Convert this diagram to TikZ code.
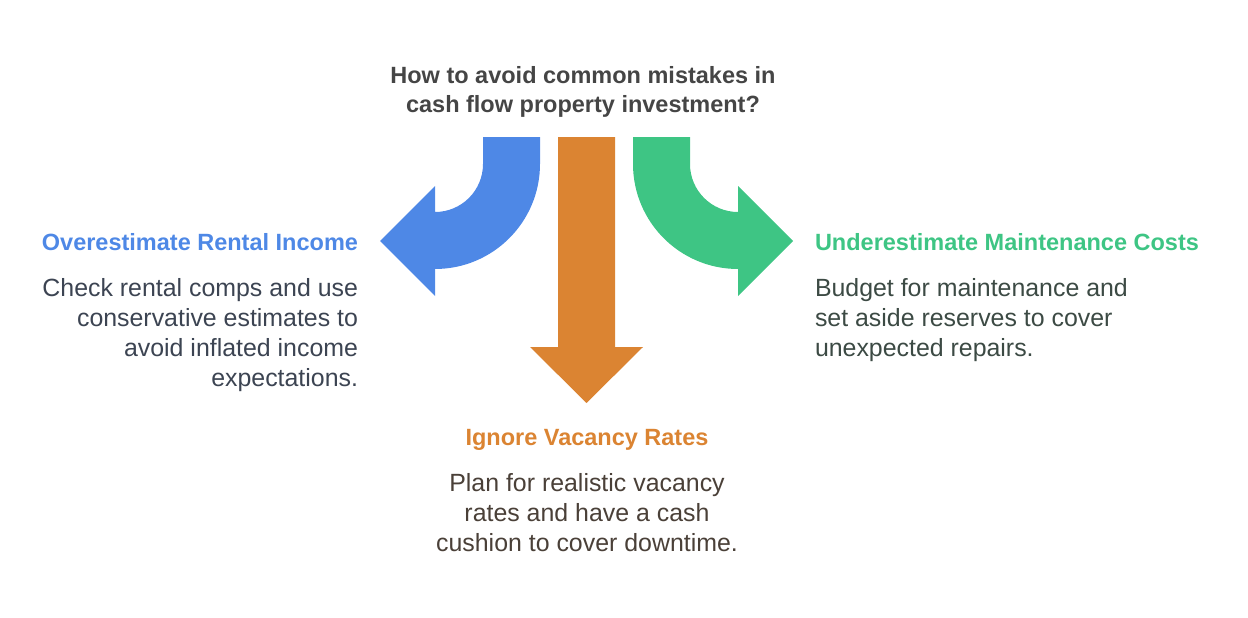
\documentclass[tikz,border=0pt]{standalone}
\usepackage{fontspec}
\setmainfont{Liberation Sans}

\definecolor{leftblue}{HTML}{4E88E6}
\definecolor{midorange}{HTML}{DB8432}
\definecolor{rightgreen}{HTML}{3EC584}
\definecolor{titlegray}{HTML}{454545}
\definecolor{leftink}{HTML}{3C4452}
\definecolor{midink}{HTML}{4A4038}
\definecolor{rightink}{HTML}{3C4A44}

\begin{document}
\begin{tikzpicture}[x=1pt, y=-1pt,
    every node/.style={inner sep=0pt, outer sep=0pt},
    title/.style={font=\bfseries\fontsize{23.5}{29}\selectfont, text=titlegray, align=center},
    heading/.style={font=\bfseries\fontsize{23.5}{28}\selectfont},
    body/.style={font=\fontsize{24.9}{30}\selectfont}
  ]
    \useasboundingbox (0,0) rectangle (1248,618);

    \node[title, anchor=base] (question) at (583,113) {How to avoid common mistakes in\\cash flow property investment?};

    \fill[leftblue] (483,137) -- (483,164) arc[start angle=0, end angle=90, radius=48]
      -- (435,186) -- (380,241) -- (435,296) -- (435,269)
      arc[start angle=90, end angle=0, radius=105] -- (540,137) -- cycle;
    \fill[midorange] (558,137) -- (558,347) -- (530,347) -- (586.5,403) -- (643,347)
      -- (615,347) -- (615,137) -- cycle;
    \fill[rightgreen] (690,137) -- (690,164) arc[start angle=180, end angle=90, radius=48]
      -- (738,186) -- (793,241) -- (738,296) -- (738,269)
      arc[start angle=90, end angle=180, radius=105] -- (633,137) -- cycle;

    \node[heading, text=leftblue, anchor=base east] (rentalhead) at (358,250) {Overestimate Rental Income};
    \node[body, text=leftink, align=right, anchor=base east] (rentaltext) at (358,386) {Check rental comps and use\\conservative estimates to\\avoid inflated income\\expectations.};

    \node[heading, text=midorange, anchor=base] (vacancyhead) at (587,445) {Ignore Vacancy Rates};
    \node[body, text=midink, align=center, anchor=base] (vacancytext) at (587,551) {Plan for realistic vacancy\\rates and have a cash\\cushion to cover downtime.};

    \node[heading, text=rightgreen, anchor=base west] (upkeephead) at (815,250) {Underestimate Maintenance Costs};
    \node[body, text=rightink, align=left, anchor=base west] (upkeeptext) at (815,356) {Budget for maintenance and\\set aside reserves to cover\\unexpected repairs.};
  \end{tikzpicture}
\end{document}
